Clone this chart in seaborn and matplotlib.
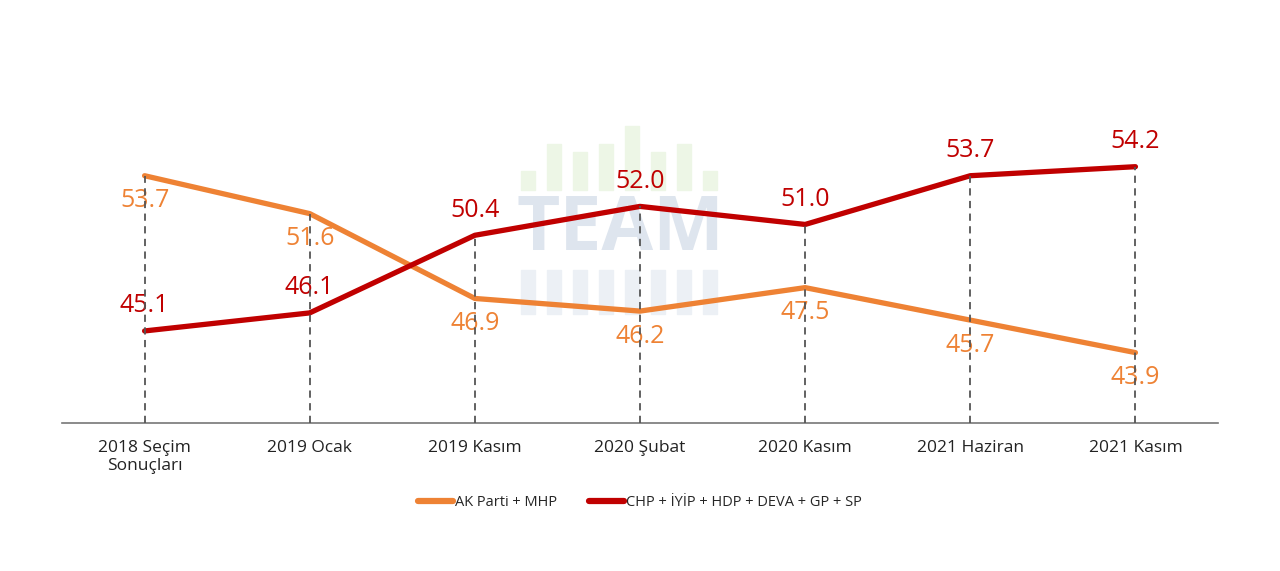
import matplotlib
matplotlib.use("Agg")
import matplotlib.pyplot as plt
import seaborn as sns
import pandas as pd
from matplotlib.patches import Rectangle
from matplotlib.lines import Line2D

categories = ["2018 Seçim\nSonuçları", "2019 Ocak", "2019 Kasım", "2020 Şubat",
              "2020 Kasım", "2021 Haziran", "2021 Kasım"]
ak_mhp = [53.7, 51.6, 46.9, 46.2, 47.5, 45.7, 43.9]
opposition = [45.1, 46.1, 50.4, 52.0, 51.0, 53.7, 54.2]
series_names = ["AK Parti + MHP", "CHP + İYİP + HDP + DEVA + GP + SP"]
colors = ["#EE8234", "#C00000"]

sns.set_theme(style="white")
plt.rcParams['font.family'] = ['Open Sans', 'DejaVu Sans']

fig = plt.figure(figsize=(12.8, 5.71), dpi=100)
fig.patch.set_facecolor("white")

# watermark (decoration)
W, H = 1280, 571
green_tops = [171, 144, 152, 144, 126, 152, 144, 171]
bar_x = [521, 547, 573, 599, 625, 651, 677, 703]
for bx, top in zip(bar_x, green_tops):
    fig.patches.append(Rectangle((bx / W, 1 - 190 / H), 14 / W, (190 - top) / H,
                                 transform=fig.transFigure, color="#EDF6E6", zorder=0))
    fig.patches.append(Rectangle((bx / W, 1 - 314 / H), 14 / W, 44 / H,
                                 transform=fig.transFigure, color="#ECF0F5", zorder=0))
fig.text(620 / W, 1 - 231 / H, "TEAM", ha="center", va="center", fontsize=54,
         fontweight="bold", color="#DEE5EE", zorder=0)

ax = fig.add_axes([62 / W, 1 - 423 / H, (1218 - 62) / W, (423 - 62) / H])
ax.set_facecolor("none")
ax.set_zorder(2)

x = list(range(len(categories)))
df = pd.DataFrame({
    "x": x * 2,
    "value": ak_mhp + opposition,
    "series": [series_names[0]] * len(x) + [series_names[1]] * len(x),
})
sns.lineplot(data=df, x="x", y="value", hue="series", palette=colors,
             linewidth=3.8, legend=False, ax=ax, solid_capstyle="round")

tops = [max(a, b) for a, b in zip(ak_mhp, opposition)]
ax.vlines(x, 40, tops, colors="#555555", linestyles=(0, (4, 3)), linewidth=1.3, zorder=5)

for i in x:
    ax.annotate(f"{ak_mhp[i]:.1f}", (i, ak_mhp[i]), xytext=(0, -18), textcoords="offset points",
                ha="center", va="center", fontsize=18, fontweight="medium",
                color=colors[0], zorder=4)
    ax.annotate(f"{opposition[i]:.1f}", (i, opposition[i]), xytext=(0, 18), textcoords="offset points",
                ha="center", va="center", fontsize=18, fontweight="medium",
                color=colors[1], zorder=4)

ax.set_xlim(-0.5, 6.5)
ax.set_ylim(40, 60)
ax.set_xticks(x)
ax.set_xticklabels(categories, fontsize=12.5, color="#222222", fontweight="medium")
ax.set_yticks([])
ax.set_xlabel("")
ax.set_ylabel("")
for s in ["top", "right", "left"]:
    ax.spines[s].set_visible(False)
ax.spines["bottom"].set_color("#777777")
ax.spines["bottom"].set_linewidth(1.2)
ax.tick_params(axis="x", length=0, pad=12)

handles = [Line2D([0], [0], color=c, linewidth=4.5, solid_capstyle="round") for c in colors]
fig.legend(handles, series_names, loc="center", bbox_to_anchor=(0.5, 1 - 503 / H), ncol=2,
           frameon=False, handlelength=2.4, handletextpad=0.15, columnspacing=2.2,
           prop={"size": 10.5, "weight": "medium"})

fig.savefig("out.png", dpi=100)
